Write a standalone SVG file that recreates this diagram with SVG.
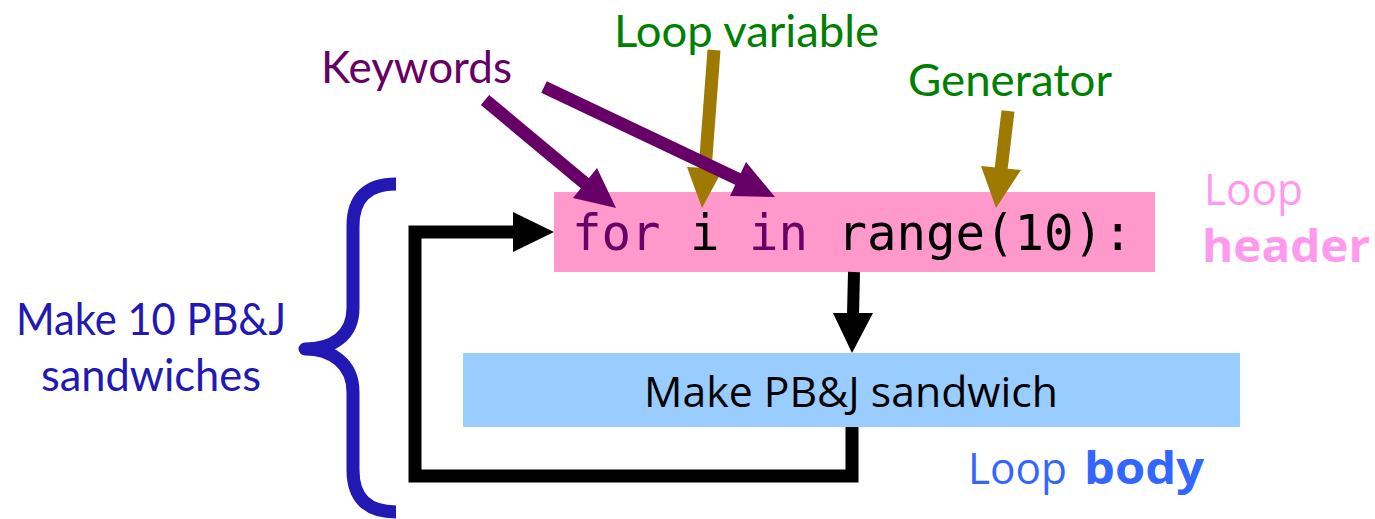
<svg xmlns="http://www.w3.org/2000/svg" width="1375" height="519" viewBox="0 0 1375 519">
<style>
.hum{font-family:Lato,"Noto Sans",sans-serif;font-size:44px}
.cal{font-family:"Open Sans","Liberation Sans",sans-serif}
.code{font-family:"DejaVu Sans Mono","Liberation Mono",monospace;font-size:49px}
.kw{fill:#660066}
.purple{stroke:#660066;stroke-width:13;fill:none}
.gold{stroke:#9e7a00;stroke-width:13;fill:none}
.black{stroke:#000;stroke-width:13;fill:none;stroke-linejoin:miter}
</style>
<rect width="1375" height="519" fill="#fff"/>
<g id="header">
<rect x="554" y="192" width="601" height="80" fill="#ff99cc"/>
<text class="code" x="572" y="250"><tspan class="kw">for</tspan> i <tspan class="kw">in</tspan> range(10):</text>
</g>
<g id="body">
<rect x="463" y="353" width="777" height="74" fill="#99ccff"/>
<text class="cal" x="644" y="407" font-size="42" textLength="414" lengthAdjust="spacingAndGlyphs">Make PB&amp;J sandwich</text>
</g>
<g id="brace">
<path d="M396 184 Q353 184 353 226 L353 308 C353 336 332 349 305 349 C332 349 353 364 353 392 L353 470 Q353 512 396 512" fill="none" stroke="#2218b4" stroke-width="13" stroke-linejoin="round"/>
<text class="hum" x="16" y="335" fill="#2218b4" textLength="270" lengthAdjust="spacingAndGlyphs">Make 10 PB&amp;J</text>
<text class="hum" x="41" y="391" fill="#2218b4" textLength="220" lengthAdjust="spacingAndGlyphs">sandwiches</text>
</g>
<g id="labels">
<text id="keywords" class="hum" x="321" y="83" fill="#660066" textLength="191" lengthAdjust="spacingAndGlyphs">Keywords</text>
<text id="loopvar" class="hum" x="614" y="47" fill="#008000" textLength="265" lengthAdjust="spacingAndGlyphs">Loop variable</text>
<text id="generator" class="hum" x="908" y="96" fill="#008000" textLength="204" lengthAdjust="spacingAndGlyphs">Generator</text>
<g id="loopheader" fill="#ff99ee">
<text class="cal" x="1204" y="205" font-size="44" textLength="99" lengthAdjust="spacingAndGlyphs">Loop</text>
<text class="cal" x="1202" y="262" font-size="44" font-weight="bold" textLength="168" lengthAdjust="spacingAndGlyphs">header</text>
</g>
<g id="loopbody" fill="#3366ff">
<text class="cal" x="968" y="484" font-size="44" textLength="99" lengthAdjust="spacingAndGlyphs">Loop</text>
<text class="cal" x="1084" y="484" font-size="44" font-weight="bold" textLength="120" lengthAdjust="spacingAndGlyphs">body</text>
</g>
</g>
<g id="connectors">
<path class="black" d="M852 427 L852 476 L415 476 L415 232 L516 232"/>
<polygon points="513,212 554,232 513,252" fill="#000"/>
<path d="M854 272 L853 315" stroke="#000" stroke-width="12" fill="none"/>
<polygon points="833,313 873,313 852,353" fill="#000"/>
<line class="gold" x1="714" y1="50" x2="705" y2="170"/>
<polygon points="723,169 687,167 702,208" fill="#9e7a00"/>
<line class="gold" x1="1008" y1="111" x2="1001" y2="170"/>
<polygon points="1021,170 981,166 996,208" fill="#9e7a00"/>
<line class="purple" x1="485" y1="100" x2="587" y2="185"/>
<polygon points="597,168 573,198 616,208" fill="#660066"/>
<line class="purple" x1="544" y1="87" x2="740" y2="180"/>
<polygon points="746,162 730,196 775,197" fill="#660066"/>
</g>
</svg>
